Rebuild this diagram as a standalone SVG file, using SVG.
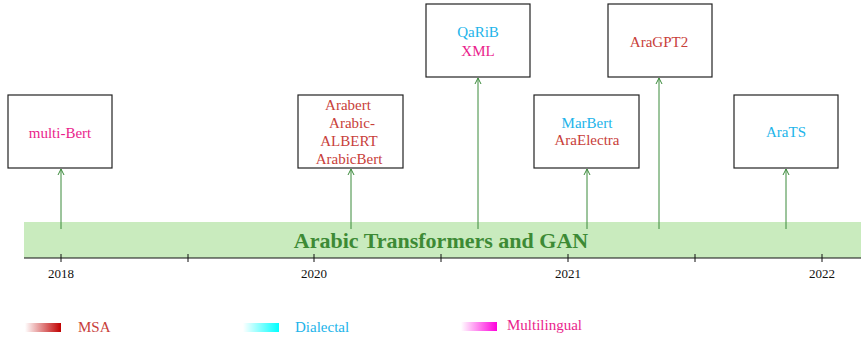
<svg xmlns="http://www.w3.org/2000/svg" width="861" height="341" viewBox="0 0 861 341">
<style>
.box{fill:#fff;stroke:#222;stroke-width:1.2}
.t{font-family:"Liberation Serif","Times New Roman",serif;font-size:15px;text-anchor:middle}
.red{fill:#c8403a}
.cy{fill:#22b4ea}
.mg{fill:#ea1e8c}
.yr{font-family:"Liberation Serif","Times New Roman",serif;font-size:13px;text-anchor:middle;fill:#111}
.con{stroke:#3a8a3a;stroke-width:1;fill:none}
.tick{stroke:#111;stroke-width:1}
.lg{font-family:"Liberation Serif","Times New Roman",serif;font-size:15px}
</style>
<defs>
<marker id="ah" viewBox="0 0 8 8" refX="7" refY="4" markerWidth="8" markerHeight="8" markerUnits="userSpaceOnUse" orient="auto">
<path d="M1,1 L7,4 L1,7" fill="none" stroke="#3a8a3a" stroke-width="1"/>
</marker>
<linearGradient id="gMSA" x1="0" x2="1" y1="0" y2="0"><stop offset="0" stop-color="#fff"/><stop offset="1" stop-color="#c00000"/></linearGradient>
<linearGradient id="gDia" x1="0" x2="1" y1="0" y2="0"><stop offset="0" stop-color="#fff"/><stop offset="1" stop-color="#00ffff"/></linearGradient>
<linearGradient id="gMul" x1="0" x2="1" y1="0" y2="0"><stop offset="0" stop-color="#fff"/><stop offset="1" stop-color="#ff00dd"/></linearGradient>
</defs>

<g id="timeline">
<rect x="24" y="222" width="837" height="36" fill="#c9ebbe"/>
<line x1="24" y1="258" x2="861" y2="258" stroke="#111" stroke-width="1.2"/>
<line class="tick" x1="61" y1="254" x2="61" y2="262"/>
<line class="tick" x1="188" y1="254" x2="188" y2="262"/>
<line class="tick" x1="314" y1="254" x2="314" y2="262"/>
<line class="tick" x1="441" y1="254" x2="441" y2="262"/>
<line class="tick" x1="568" y1="254" x2="568" y2="262"/>
<line class="tick" x1="695" y1="254" x2="695" y2="262"/>
<line class="tick" x1="822" y1="254" x2="822" y2="262"/>
<text class="yr" x="61" y="278">2018</text>
<text class="yr" x="314" y="278">2020</text>
<text class="yr" x="568" y="278">2021</text>
<text class="yr" x="822" y="278">2022</text>
<text x="441" y="248" text-anchor="middle" font-family="'Liberation Serif','Times New Roman',serif" font-size="22" font-weight="bold" fill="#3d8a35">Arabic Transformers and GAN</text>
</g>

<g id="connectors">
<line class="con" x1="61" y1="229" x2="61" y2="169" marker-end="url(#ah)"/>
<line class="con" x1="351" y1="229" x2="351" y2="169" marker-end="url(#ah)"/>
<line class="con" x1="478" y1="229" x2="478" y2="78" marker-end="url(#ah)"/>
<line class="con" x1="587" y1="229" x2="587" y2="169" marker-end="url(#ah)"/>
<line class="con" x1="659" y1="229" x2="659" y2="78" marker-end="url(#ah)"/>
<line class="con" x1="786" y1="229" x2="786" y2="169" marker-end="url(#ah)"/>
</g>

<g id="multibert">
<rect class="box" x="8" y="95" width="104" height="73"/>
<text class="t mg" x="60" y="138">multi-Bert</text>
</g>
<g id="arabert">
<rect class="box" x="298" y="95" width="105" height="73"/>
<text class="t red" x="348" y="110">Arabert</text>
<text class="t red" x="352" y="128">Arabic-</text>
<text class="t red" x="349" y="146">ALBERT</text>
<text class="t red" x="349" y="164">ArabicBert</text>
</g>
<g id="qarib">
<rect class="box" x="426" y="4" width="104" height="73"/>
<text class="t cy" x="478" y="37">QaRiB</text>
<text class="t mg" x="478" y="56">XML</text>
</g>
<g id="aragpt2">
<rect class="box" x="608" y="4" width="104" height="73"/>
<text class="t red" x="659" y="47">AraGPT2</text>
</g>
<g id="marbert">
<rect class="box" x="534" y="95" width="105" height="73"/>
<text class="t cy" x="587" y="128">MarBert</text>
<text class="t red" x="587" y="145">AraElectra</text>
</g>
<g id="arats">
<rect class="box" x="734" y="95" width="104" height="73"/>
<text class="t cy" x="786" y="137">AraTS</text>
</g>

<g id="legend">
<rect x="25" y="323" width="36" height="9" fill="url(#gMSA)"/>
<text class="lg red" x="78" y="332">MSA</text>
<rect x="243" y="323" width="36" height="9" fill="url(#gDia)"/>
<text class="lg cy" x="295" y="332">Dialectal</text>
<rect x="461" y="322" width="36" height="9" fill="url(#gMul)"/>
<text class="lg mg" x="507" y="330">Multilingual</text>
</g>
</svg>
